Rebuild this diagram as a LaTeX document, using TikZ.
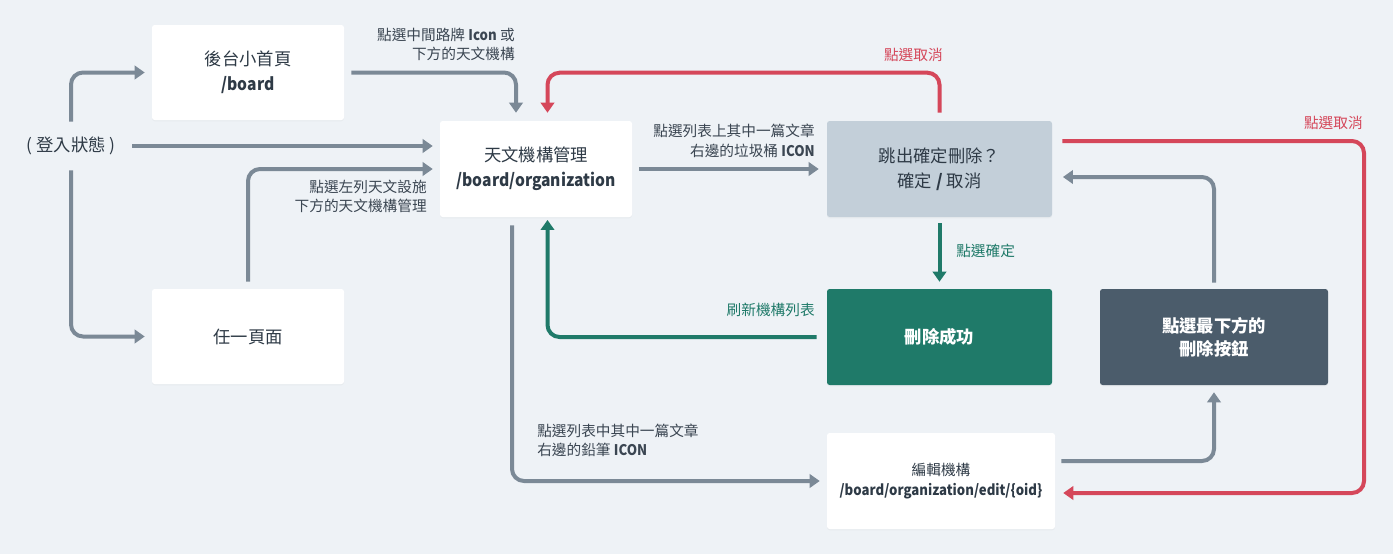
\documentclass[tikz,border=0pt]{standalone}
\usepackage{fontspec}
\setmainfont{Noto Sans CJK TC}
\newfontfamily\narrowfont[FakeStretch=0.9]{Noto Sans CJK TC}
\newcommand{\latinb}[1]{{\narrowfont\bfseries #1}}
\usepackage{tikz}
\usetikzlibrary{arrows.meta,calc,shadows}

\definecolor{bgcol}{HTML}{EEF2F6}
\definecolor{linecol}{HTML}{7B8996}
\definecolor{redcol}{HTML}{D5475A}
\definecolor{greencol}{HTML}{1F7A69}
\definecolor{askcol}{HTML}{C3CFD9}
\definecolor{slatecol}{HTML}{4B5C6B}
\definecolor{textcol}{HTML}{2E3A46}
\definecolor{labelcol}{HTML}{3B4652}

\tikzset{
  box/.style={rectangle, rounded corners=2pt, fill=white, minimum width=144pt, minimum height=71.25pt, inner sep=2pt, align=center, text=textcol, font=\fontsize{13pt}{18.75pt}\selectfont, drop shadow={opacity=0.05, shadow xshift=0pt, shadow yshift=-1pt}},
  widebox/.style={box, minimum width=168.75pt, minimum height=72pt},
  flow/.style={draw=linecol, line width=3pt, rounded corners=9pt, -{Triangle[length=7.5pt,width=10pt]}},
  lbl/.style={text=labelcol, inner sep=0pt, align=right, font=\fontsize{11pt}{14.5pt}\selectfont},
}

\begin{document}
\begin{tikzpicture}[x=0.75pt,y=0.75pt,yscale=-1,xscale=1]
%background, sets the size of the picture
\fill[bgcol] (0,0) rectangle (1393,554);
\useasboundingbox (0,0) rectangle (1393,554);

% Text Node
\node [inner sep=0pt, minimum width=82.5pt, minimum height=36pt, text=textcol, font=\fontsize{13pt}{16pt}\selectfont] (login) at (71,146) {( 登入狀態 )};
%Shape: Rectangle
\node [box] (board) at (248,72.5) {後台小首頁\\\latinb{/board}};
%Shape: Rectangle
\node [box] (anypage) at (248,336.5) {任一頁面};
%Shape: Rectangle
\node [box, minimum height=72pt] (org) at (536,169) {天文機構管理\\\latinb{/board/organization}};
%Shape: Rectangle
\node [widebox, fill=askcol] (confirm) at (939.5,169) {跳出確定刪除？\\確定 \textbf{/} 取消};
%Shape: Rectangle
\node [widebox, fill=greencol, text=white, font=\bfseries\fontsize{13pt}{18.75pt}\selectfont] (success) at (939.5,337) {刪除成功};
%Shape: Rectangle
\node [widebox, minimum width=171pt, fill=slatecol, text=white, font=\bfseries\fontsize{13pt}{17.5pt}\selectfont] (delbtn) at (1214,337) {點選最下方的\\刪除按鈕};
%Shape: Rectangle
\node [widebox, minimum width=171pt, font=\fontsize{11pt}{15pt}\selectfont] (edit) at (941,481) {編輯機構\\\latinb{/board/organization/edit/\{oid\}}};
\coordinate (redturn) at (1364,141);

% Text Node
\node [lbl, anchor=east] (lblboard) at (515,44.5) {點選中間路牌 \latinb{Icon} 或\\下方的天文機構};
% Text Node
\node [lbl, anchor=east] (lblany) at (427,196.5) {點選左列天文設施\\下方的天文機構管理};
% Text Node
\node [lbl, anchor=east] (lbltrash) at (815,141) {點選列表上其中一篇文章\\右邊的垃圾桶 \latinb{ICON}};
% Text Node
\node [lbl, anchor=west, align=left] (lblpencil) at (537,440) {點選列表中其中一篇文章\\右邊的鉛筆 \latinb{ICON}};
% Text Node
\node [lbl, anchor=east, text=redcol] (lblcancel) at (943,55) {點選取消};
% Text Node
\node [lbl, anchor=east, text=redcol] (lblcancelb) at (1363,123) {點選取消};
% Text Node
\node [lbl, anchor=west, text=greencol] (lblok) at (956,251) {點選確定};
% Text Node
\node [lbl, anchor=east, text=greencol] (lblrefresh) at (815,310) {刷新機構列表};

%Straight Lines
\draw [flow, shorten >=5.25pt] (login.north) |- (board.west);
\draw [flow, shorten >=5.25pt] (login.south) |- (anypage.west);
\draw [flow, shorten <=4.5pt, shorten >=5.25pt] (login.east) -- (login.east -| org.west);
\draw [flow, shorten <=5.25pt, shorten >=5.25pt] (anypage.north) |- (org.west);
\draw [flow, shorten <=5.25pt, shorten >=6pt] (board.east) -| ($(org.north)+(-20,0)$);
\draw [flow, shorten <=5pt, shorten >=6pt] (org.east) -- (confirm.west);
\draw [flow, shorten <=6pt, shorten >=5.25pt] ($(org.south)+(-24,0)$) |- (edit.west);
\draw [flow, shorten <=4.5pt, shorten >=5.25pt] ($(edit.east)+(0,-20)$) -| (delbtn.south);
\draw [flow, shorten <=4.5pt, shorten >=8pt] (delbtn.north) |- ($(confirm.east)+(0,8)$);
%Curve Lines
\draw [flow, draw=redcol, shorten <=6pt, shorten >=6pt] (confirm.north) -- ++(0,-48) -| ($(org.north)+(11.5,0)$);
\draw [flow, draw=redcol, shorten <=7.5pt, shorten >=6pt] ($(confirm.east)+(0,-28)$) -- (redturn) |- ($(edit.east)+(0,12)$);
\draw [flow, draw=greencol, shorten <=4.5pt, shorten >=5.25pt] (confirm.south) -- (success.north);
\draw [flow, draw=greencol, shorten <=7.5pt, shorten >=2pt] (success.west) -| ($(org.south)+(11.5,0)$);

\end{tikzpicture}
\end{document}
